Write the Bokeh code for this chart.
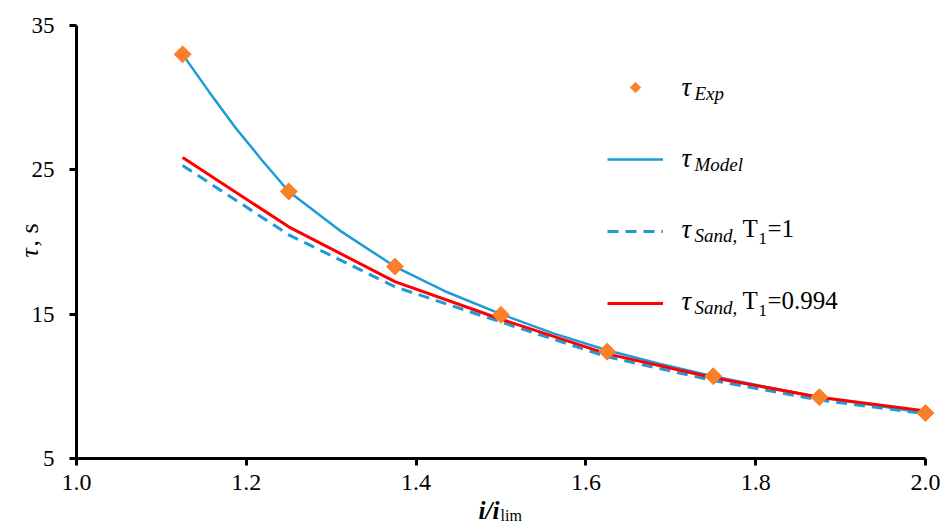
import numpy as np
from bokeh.plotting import figure
from bokeh.models import (FixedTicker, NumeralTickFormatter, Legend, LegendItem,
                          Label, ColumnDataSource, PolyAnnotation)
from bokeh.core.properties import value
from bokeh.embed import file_html
from bokeh.resources import INLINE

# ---- data ----
x_pts = [1.125, 1.25, 1.375, 1.5, 1.625, 1.75, 1.875, 2.0]
tau_exp = [33.0, 23.5, 18.3, 14.95, 12.4, 10.7, 9.25, 8.15]
tau_sand_1 = [25.3, 20.5, 16.9, 14.45, 12.05, 10.4, 9.05, 8.1]
tau_sand_0994 = [25.85, 21.05, 17.25, 14.65, 12.25, 10.6, 9.25, 8.3]

x_model = [1.125, 1.15625, 1.1875, 1.21875, 1.25, 1.3125, 1.375, 1.4375, 1.5,
           1.5625, 1.625, 1.6875, 1.75, 1.8125, 1.875, 1.9375, 2.0]
tau_model = [33.0, 30.4, 27.9, 25.65, 23.5, 20.7, 18.3, 16.5, 15.0,
             13.65, 12.5, 11.55, 10.7, 9.95, 9.25, 8.7, 8.15]

x_ticks = [1.0, 1.2, 1.4, 1.6, 1.8, 2.0]
y_ticks = [5, 15, 25, 35]
x_lo, x_hi = 1.0, 2.0
y_lo, y_hi = 5, 35

BLUE = "#1E9AD6"
RED = "#FF0000"
ORANGE = "#FA7F2A"
SERIF = '"Liberation Serif", "Times New Roman", serif'

# ---- layout: the plot area of the reference spans these window pixels ----
W, H = 941, 525
PL, PR, PT, PB = 76, 925, 25, 458
sx = (PR - PL) / (x_hi - x_lo)
sy = (PB - PT) / (y_hi - y_lo)
xr = (x_lo - PL / sx, x_hi + (W - PR) / sx)
yr = (y_lo - (H - PB) / sy, y_hi + PT / sy)

# the frame covers the whole window, the axes are fixed at x=1.0 and y=5
p = figure(width=W, height=H, x_range=xr, y_range=yr,
           output_backend="svg", toolbar_location=None,
           min_border=0)
p.outline_line_color = None
p.xgrid.visible = False
p.ygrid.visible = False
p.xaxis.fixed_location = y_lo
p.yaxis.fixed_location = x_lo
p.xaxis.bounds = (x_lo, x_hi)
p.yaxis.bounds = (y_lo, y_hi)

for ax, ticks, fs in ((p.xaxis, x_ticks, "24px"), (p.yaxis, y_ticks, "23px")):
    ax.ticker = FixedTicker(ticks=ticks)
    ax.axis_line_width = 3
    ax.axis_line_color = "black"
    ax.major_tick_line_width = 3
    ax.major_tick_line_color = "black"
    ax.major_tick_out = 7
    ax.major_tick_in = 0
    ax.minor_tick_line_color = None
    ax.major_label_text_font = SERIF
    ax.major_label_text_font_size = fs
    ax.major_label_text_color = "black"
p.xaxis.formatter = NumeralTickFormatter(format="0.0")
p.xaxis.major_label_standoff = 9
p.yaxis.major_label_standoff = 15

src = ColumnDataSource(dict(x=x_pts, exp=tau_exp, s1=tau_sand_1, s2=tau_sand_0994))
msrc = ColumnDataSource(dict(x=x_model, y=tau_model))

r_model = p.line("x", "y", source=msrc, line_color=BLUE, line_width=2.5)
r_s1 = p.line("x", "s1", source=src, line_color=BLUE, line_width=3, line_dash="11 7")
r_s2 = p.line("x", "s2", source=src, line_color=RED, line_width=3)
r_exp = p.scatter("x", "exp", source=src, marker="square", angle=np.pi / 4,
                  size=12, fill_color=ORANGE, line_color=ORANGE)

legend = Legend(items=[
    LegendItem(label=value(" "), renderers=[r_model]),
    LegendItem(label=value(" "), renderers=[r_s1]),
    LegendItem(label=value(" "), renderers=[r_s2]),
], location=(607, H - 316), glyph_width=56, glyph_height=26, label_height=26,
    spacing=46, padding=0, margin=0, border_line_color=None,
    background_fill_alpha=0, label_text_font_size="2px", label_standoff=0,
    label_width=1)
p.add_layout(legend)

# legend sample for the experimental points (a diamond like the data markers)
cx, cy, h = 635, H - 87, 5.5
p.add_layout(PolyAnnotation(xs=[cx, cx + h, cx, cx - h], ys=[cy + h, cy, cy - h, cy],
                            xs_units="screen", ys_units="screen",
                            fill_color=ORANGE, fill_alpha=1.0, line_color=ORANGE))


def lab(text, X, Y, size, style="normal", angle=0.0):
    p.add_layout(Label(x=X, y=H - Y, x_units="screen", y_units="screen",
                       text=text, text_font=SERIF, text_font_size=size,
                       text_font_style=style, text_color="black",
                       text_baseline="alphabetic", text_align="left",
                       angle=angle))


# legend texts
rows = [86, 157, 228, 300]
subs = ["Exp", "Model", "Sand,", "Sand,"]
for Y, s in zip(rows, subs):
    lab("τ", 681, Y, "27px", "italic")
    lab(s, 694, Y + 7, "19px", "italic")
for Y, rest in ((rows[2], "=1"), (rows[3], "=0.994")):
    lab("T", 742, Y, "25px")
    lab("1", 758, Y + 10, "17px")
    lab(rest, 767, Y, "25px")

# axis titles
lab("τ", 29, 257, "26px", "italic", angle=np.pi / 2)
lab(", s", 29, 246, "26px", "normal", angle=np.pi / 2)
lab("i/i", 478, 510, "25px", "bold italic")
lab("lim", 500, 515, "16px")

open("out.html", "w").write(file_html(p, INLINE))
